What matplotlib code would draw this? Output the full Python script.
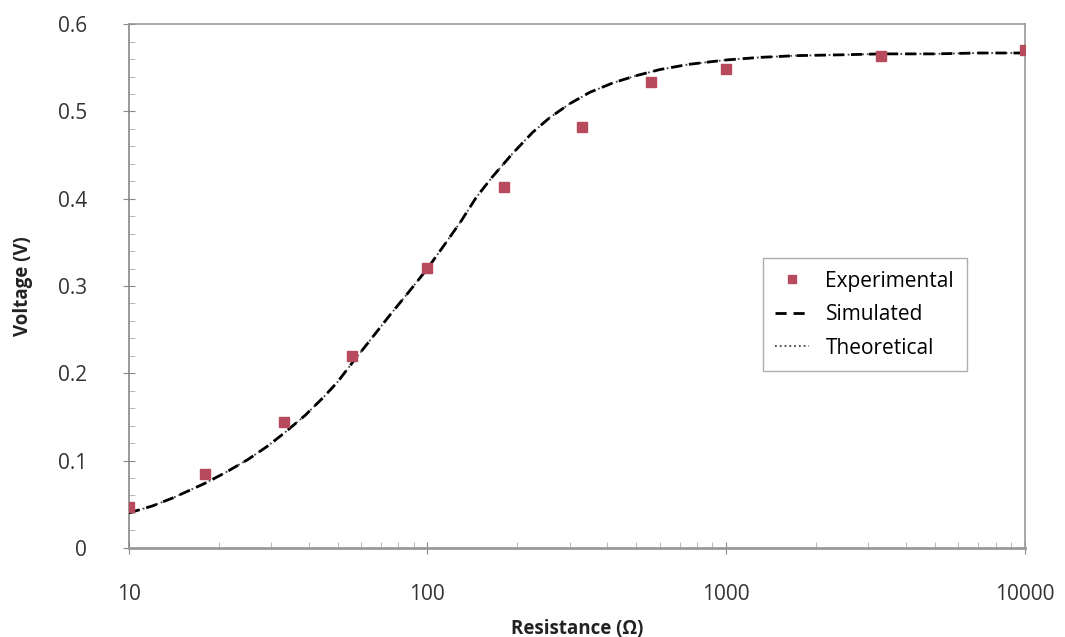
import matplotlib.pyplot as plt
from matplotlib.ticker import MultipleLocator, LogLocator, FixedLocator, NullFormatter

# experimental points (resistance in ohm, voltage in V)
exp_r = [10, 18, 33, 56, 100, 180, 330, 560, 1000, 3300, 10000]
exp_v = [0.047, 0.085, 0.144, 0.220, 0.321, 0.413, 0.482, 0.534, 0.549, 0.564, 0.570]

# simulated curve
sim_r = [10, 12, 14, 16, 18, 21, 25, 29, 33, 39, 45, 50, 56, 65, 75, 87, 100, 115,
         130, 146, 165, 193, 225, 257, 300, 350, 420, 500, 600, 750, 1000, 1300,
         1722, 2500, 3300, 5000, 7000, 10000]
sim_v = [0.040, 0.048, 0.057, 0.066, 0.074, 0.086, 0.101, 0.116, 0.131, 0.152,
         0.173, 0.190, 0.212, 0.240, 0.267, 0.294, 0.320, 0.349, 0.375, 0.402,
         0.425, 0.452, 0.476, 0.493, 0.509, 0.522, 0.533, 0.541, 0.548, 0.554,
         0.559, 0.562, 0.564, 0.565, 0.566, 0.566, 0.567, 0.567]

# theoretical curve (lies on top of the simulated one)
theo_r = sim_r
theo_v = sim_v

x_ticks = [10, 100, 1000, 10000]
x_labels = ['10', '100', '1000', '10000']
y_ticks = [0, 0.1, 0.2, 0.3, 0.4, 0.5, 0.6]
y_labels = ['0', '0.1', '0.2', '0.3', '0.4', '0.5', '0.6']

plt.rcParams['font.family'] = ['Open Sans', 'DejaVu Sans']

fig = plt.figure(figsize=(10.65, 6.37), dpi=100)
ax = fig.add_axes([0.121, 0.140, 0.841, 0.822])

ax.plot(theo_r, theo_v, color='#444444', linestyle=':', linewidth=1.3, label='Theoretical', zorder=2)
ax.plot(sim_r, sim_v, color='black', linestyle=(0, (4, 2.5)), linewidth=2, label='Simulated', zorder=3)
ax.plot(exp_r, exp_v, linestyle='none', marker='s', markersize=7.5, color='#b84a5e',
        label='Experimental', zorder=4)

ax.set_xscale('log')
ax.set_xlim(10, 10000)
ax.set_ylim(0, 0.6)

ax.xaxis.set_major_locator(FixedLocator(x_ticks))
ax.set_xticklabels(x_labels)
ax.xaxis.set_minor_locator(LogLocator(base=10, subs=range(2, 10)))
ax.xaxis.set_minor_formatter(NullFormatter())
ax.yaxis.set_major_locator(FixedLocator(y_ticks))
ax.set_yticklabels(y_labels)
ax.yaxis.set_minor_locator(MultipleLocator(0.02))

ax.tick_params(which='major', direction='inout', length=8, color='#888888', labelsize=15,
               labelcolor='#333333')
ax.tick_params(axis='x', which='major', pad=22)
ax.tick_params(axis='y', which='major', pad=26)
ax.tick_params(which='minor', direction='in', length=4, color='#aaaaaa')

for s in ax.spines.values():
    s.set_color('#999999')
    s.set_linewidth(1.2)
ax.spines['left'].set_color('#888888')
ax.spines['bottom'].set_linewidth(2)

ax.set_xlabel('Resistance (Ω)', fontsize=13.5, fontweight='bold', color='#222222', labelpad=10)
ax.set_ylabel('Voltage (V)', fontsize=13.5, fontweight='bold', color='#222222', labelpad=18)

h, l = ax.get_legend_handles_labels()
order = [2, 1, 0]
leg = ax.legend([h[i] for i in order], [l[i] for i in order], loc='upper left',
                bbox_to_anchor=(0.708, 0.553), borderaxespad=0, fontsize=15, frameon=True,
                fancybox=False, edgecolor='#999999', handlelength=1.6, labelspacing=0.6,
                borderpad=0.6, markerscale=0.7)
leg.get_frame().set_linewidth(1.0)

fig.savefig('out.png', dpi=100)
